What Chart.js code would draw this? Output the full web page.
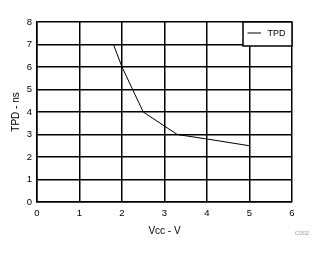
<!DOCTYPE html>
<html>
<head>
<meta charset="utf-8">
<script src="https://cdn.jsdelivr.net/npm/chart.js@4"></script>
<style>
html,body{margin:0;padding:0;background:#fff;}
#wrap{width:323px;height:254px;position:relative;}
</style>
</head>
<body>
<div id="wrap"><canvas id="c" width="323" height="254"></canvas></div>
<script>
const seriesName = "TPD";
const vcc = [1.8, 2.0, 2.5, 3.3, 4.0, 5.0];
const tpd = [7.0, 6.0, 4.0, 3.0, 2.8, 2.5];
const xTitle = "Vcc - V";
const yTitle = "TPD - ns";
const note = "C002";

const FONT = "'Liberation Sans', Arial, sans-serif";

const extras = {
  id: 'extras',
  afterDraw(chart) {
    const ctx = chart.ctx;
    const a = chart.chartArea;
    ctx.save();
    const bw = 49, bh = 24;
    const bx = a.right - bw, by = a.top;
    ctx.fillStyle = '#fff';
    ctx.fillRect(bx, by, bw, bh);
    ctx.strokeStyle = '#000';
    ctx.lineWidth = 1.5;
    ctx.strokeRect(bx, by, bw, bh);
    ctx.lineWidth = 1;
    ctx.beginPath();
    ctx.moveTo(bx + 4.5, by + 11);
    ctx.lineTo(bx + 18, by + 11);
    ctx.stroke();
    ctx.fillStyle = '#000';
    ctx.font = "9px " + FONT;
    ctx.textBaseline = 'middle';
    ctx.textAlign = 'left';
    ctx.fillText(chart.data.datasets[0].label, bx + 24.5, by + 11.5);
    ctx.fillStyle = '#999';
    ctx.font = "6px " + FONT;
    ctx.textAlign = 'center';
    ctx.fillText(note, 302, 233);
    ctx.restore();
  }
};

new Chart(document.getElementById('c'), {
  type: 'line',
  data: {
    datasets: [{
      label: seriesName,
      data: vcc.map((x, i) => ({x: x, y: tpd[i]})),
      borderColor: '#000',
      borderWidth: 1,
      pointRadius: 0,
      tension: 0,
      fill: false
    }]
  },
  options: {
    responsive: false,
    animation: false,
    devicePixelRatio: 1,
    layout: {padding: {left: 10, right: 31, top: 22, bottom: 15}},
    plugins: {legend: {display: false}, tooltip: {enabled: false}},
    scales: {
      x: {
        type: 'linear', min: 0, max: 6,
        ticks: {stepSize: 1, color: '#000', font: {family: FONT, size: 9.5}, padding: 6},
        grid: {color: '#000', lineWidth: 1.5, drawTicks: false},
        border: {color: '#000', width: 1.5},
        title: {display: true, text: xTitle, color: '#000', font: {family: FONT, size: 10}, padding: {top: 2, bottom: 2}},
        afterFit(s) { s.height = 37; }
      },
      y: {
        type: 'linear', min: 0, max: 8,
        ticks: {stepSize: 1, color: '#000', font: {family: FONT, size: 9.5}, padding: 5},
        grid: {color: '#000', lineWidth: 1.5, drawTicks: false},
        border: {color: '#000', width: 1.5},
        title: {display: true, text: yTitle, color: '#000', font: {family: FONT, size: 10}, padding: {top: 0, bottom: 6}},
        afterFit(s) { s.width = 27; }
      }
    }
  },
  plugins: [extras]
});
</script>
</body>
</html>
